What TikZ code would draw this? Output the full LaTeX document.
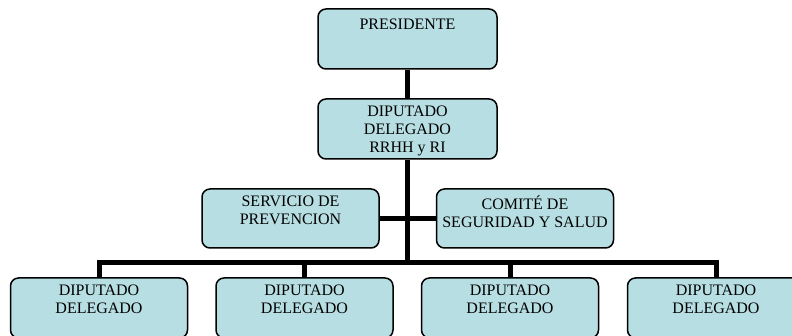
\documentclass[tikz,border=0pt]{standalone}
\usepackage{fontspec}
\setmainfont{Liberation Serif}
\usepackage{tikz}
\usetikzlibrary{positioning}
\definecolor{boxblue}{RGB}{183,222,226}

\begin{document}
\begin{tikzpicture}[x=1pt, y=-1pt,
    box/.style={draw, line width=1.5pt, rounded corners=8pt, fill=boxblue, minimum width=177pt, minimum height=60pt},
    boxtext/.style={anchor=north, align=center, inner sep=0pt, font=\fontsize{16}{18.3}\selectfont, label distance=-7pt, execute at begin node={\vphantom{É}}},
    conn/.style={line width=5pt, line join=miter}
]
    \useasboundingbox (0,0) rectangle (792,336);

    % Top
    \node[box, minimum width=179pt, label={[boxtext]north:PRESIDENTE}] (pres) at (407.5, 39) {};
    \node[box, minimum width=179pt, label={[boxtext]north:{DIPUTADO\\DELEGADO\\RRHH y RI}}] (rrhh) at (407.5, 129) {};

    % Staff
    \node[box, minimum height=59pt, label={[boxtext]north:{SERVICIO DE\\PREVENCION}}] (serv) at (290.5, 218.5) {};
    \node[box, minimum height=59pt, label={[boxtext]north:{COMITÉ DE\\SEGURIDAD Y SALUD}}] (comite) at (525, 218.5) {};

    % Delegados
    \node[box, label={[boxtext]north:{DIPUTADO\\DELEGADO}}] (del1) at (99, 308) {};
    \node[box, label={[boxtext]north:{DIPUTADO\\DELEGADO}}] (del2) at (304.5, 308) {};
    \node[box, label={[boxtext]north:{DIPUTADO\\DELEGADO}}] (del3) at (510, 308) {};
    \node[box, label={[boxtext]north:{DIPUTADO\\DELEGADO}}] (del4) at (716, 308) {};

    \coordinate (bus) at (407.5, 263);

    % Lines
    \draw[conn] (pres.south) -- (rrhh.north);
    \draw[conn] (rrhh.south) -- (bus);
    \draw[conn] (serv.east) -- (comite.west);
    \draw[conn] (del1.north) |- (bus) -| (del4.north);
    \draw[conn] (del2.north) -- (del2.north |- bus);
    \draw[conn] (del3.north) -- (del3.north |- bus);
\end{tikzpicture}
\end{document}
